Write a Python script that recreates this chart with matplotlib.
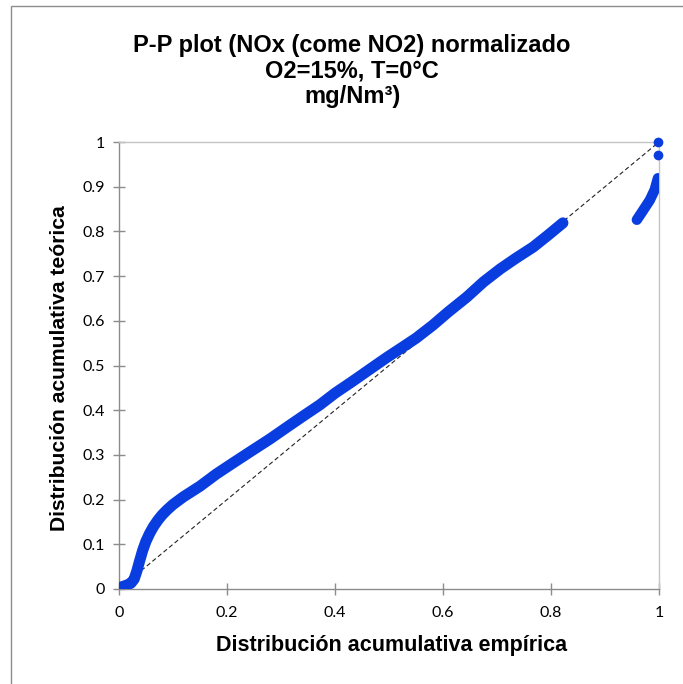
import matplotlib
matplotlib.use("Agg")
import matplotlib.pyplot as plt
from matplotlib.patches import Rectangle

# Main band of the P-P plot
main_x = [0.000, 0.008, 0.015, 0.022, 0.028, 0.033, 0.038, 0.044, 0.050, 0.057, 0.064,
          0.072, 0.080, 0.089, 0.100, 0.119, 0.150, 0.180, 0.210, 0.248, 0.280,
          0.311, 0.340, 0.372, 0.400, 0.433, 0.465, 0.496, 0.520, 0.550, 0.581,
          0.610, 0.644, 0.675, 0.706, 0.735, 0.767, 0.795, 0.822]
main_y = [0.003, 0.006, 0.009, 0.013, 0.022, 0.040, 0.062, 0.087, 0.107, 0.125, 0.140,
          0.154, 0.166, 0.177, 0.189, 0.206, 0.230, 0.257, 0.281, 0.311, 0.336,
          0.362, 0.386, 0.412, 0.438, 0.465, 0.492, 0.518, 0.537, 0.561, 0.590,
          0.620, 0.653, 0.687, 0.716, 0.740, 0.765, 0.792, 0.819]

# Upper-tail band
tail_x = [0.959, 0.970, 0.983, 0.992, 0.998]
tail_y = [0.826, 0.846, 0.870, 0.893, 0.919]

# Isolated top points
top_x = [0.999, 0.999]
top_y = [0.972, 0.999]

diag = [0, 1]

title = "P-P plot (NOx (come NO2) normalizado\nO2=15%, T=0°C\nmg/Nm³)"
xlabel = "Distribución acumulativa empírica"
ylabel = "Distribución acumulativa teórica"
ticks = [0, 0.2, 0.4, 0.6, 0.8, 1]
yticks = [0, 0.1, 0.2, 0.3, 0.4, 0.5, 0.6, 0.7, 0.8, 0.9, 1]

W, H = 683, 684
fig = plt.figure(figsize=(W / 100, H / 100), dpi=100)
fig.patch.set_facecolor("white")

# outer chart border (continues past right and bottom edges)
fig.patches.append(Rectangle((11 / W, -0.2), 1.5, 1.2 - 6 / H, transform=fig.transFigure,
                             fill=False, edgecolor="#8c8c8c", linewidth=1.0))

ax = fig.add_axes([119 / W, 1 - 589 / H, 540 / W, 447 / H])
blue = "#0a3de0"

ax.plot(diag, diag, linestyle=(0, (4, 2.5)), color="#222222", linewidth=0.8, zorder=2)
ax.plot(main_x, main_y, color=blue, linewidth=8, solid_capstyle="round",
        solid_joinstyle="round", zorder=3)
ax.plot(tail_x, tail_y, color=blue, linewidth=7.5, solid_capstyle="round",
        solid_joinstyle="round", zorder=3)
ax.plot(top_x, top_y, linestyle="none", marker="o", markersize=7, color=blue,
        markeredgewidth=0, zorder=4, clip_on=False)

ax.set_xlim(0, 1)
ax.set_ylim(0, 1)
ax.set_xticks(ticks)
ax.set_yticks(yticks)
ax.set_xticklabels(["0", "0.2", "0.4", "0.6", "0.8", "1"])
ax.set_yticklabels(["0", "0.1", "0.2", "0.3", "0.4", "0.5", "0.6", "0.7", "0.8", "0.9", "1"])

for s in ["left", "bottom"]:
    ax.spines[s].set_color("#8c8c8c")
    ax.spines[s].set_linewidth(1.0)
for s in ["top", "right"]:
    ax.spines[s].set_color("#c4c4c4")
    ax.spines[s].set_linewidth(1.0)

ax.tick_params(axis="both", direction="inout", length=8, width=1.0, color="#8c8c8c",
               labelsize=11.5, labelcolor="black")
ax.tick_params(axis="y", pad=6)
ax.tick_params(axis="x", pad=8)
for lab in ax.get_xticklabels() + ax.get_yticklabels():
    lab.set_fontfamily(["Lato", "DejaVu Sans"])

fig.text(352 / W, 1 - 71 / H, title, ha="center", va="center", fontsize=17,
         fontweight="bold", family=["Liberation Sans", "DejaVu Sans"], linespacing=1.12)
fig.text(392 / W, 1 - 645 / H, xlabel, ha="center", va="center", fontsize=15.5,
         fontweight="bold", family=["Liberation Sans", "DejaVu Sans"])
fig.text(60 / W, 1 - 368 / H, ylabel, ha="center", va="center", fontsize=15.2,
         fontweight="bold", rotation=90, family=["Liberation Sans", "DejaVu Sans"])

fig.savefig("out.png", dpi=100)
